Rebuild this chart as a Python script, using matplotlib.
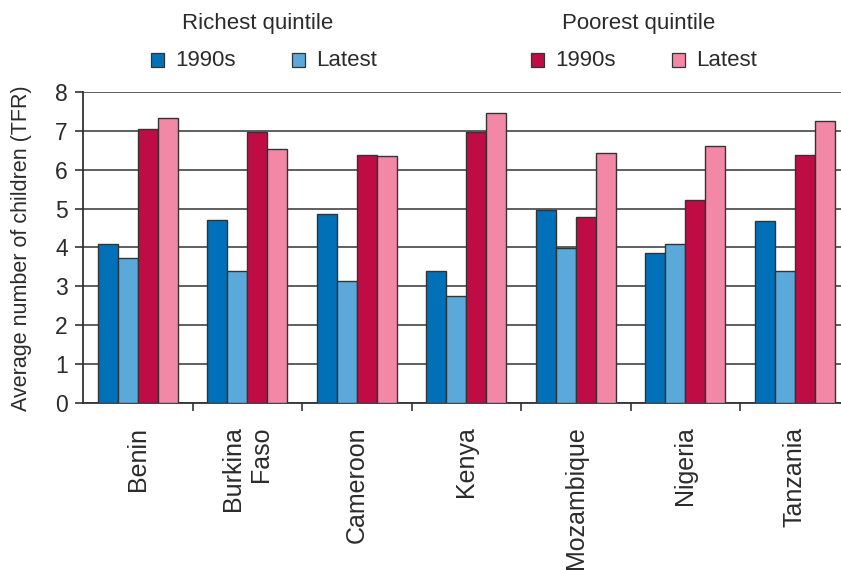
import matplotlib
matplotlib.use("Agg")
import matplotlib.pyplot as plt
import numpy as np
from matplotlib.patches import Rectangle

countries = ["Benin", "Burkina\nFaso", "Cameroon", "Kenya", "Mozambique", "Nigeria", "Tanzania"]
rich_1990s = [4.08, 4.70, 4.86, 3.39, 4.96, 3.86, 4.67]
rich_latest = [3.72, 3.40, 3.13, 2.76, 3.98, 4.09, 3.39]
poor_1990s = [7.04, 6.97, 6.39, 6.97, 4.79, 5.22, 6.39]
poor_latest = [7.34, 6.53, 6.36, 7.47, 6.43, 6.61, 7.26]

series_labels = ["1990s", "Latest", "1990s", "Latest"]
colors = ["#0071B9", "#5BA8DB", "#C00C45", "#F288A6"]
group_titles = ["Richest quintile", "Poorest quintile"]
yticks = [0, 1, 2, 3, 4, 5, 6, 7, 8]
ylabel = "Average number of children (TFR)"

plt.rcParams['font.family'] = ['Liberation Sans', 'DejaVu Sans']
text_color = "#2b2b2b"
edge = "#333333"

fig = plt.figure(figsize=(8.41, 5.70), dpi=100)
ax = fig.add_axes([83/841, 1 - 403/570, 1 - 83/841, (403 - 92)/570])

x = np.arange(len(countries))
w = 0.182
data = [rich_1990s, rich_latest, poor_1990s, poor_latest]
for i, (vals, c) in enumerate(zip(data, colors)):
    ax.bar(x + (i - 1.5) * w, vals, width=w, color=c, edgecolor=edge, linewidth=1.0, zorder=3)

ax.set_ylim(0, 8)
ax.set_xlim(-0.5, (841 - 83) / 109.5 - 0.5)
ax.set_yticks(yticks)
ax.set_yticklabels([str(v) for v in yticks], fontsize=16.5, color=text_color)
ax.yaxis.grid(True, color="#444444", linewidth=1.2, zorder=0)
ax.tick_params(axis='y', length=6, width=1.2, color=edge, direction='out', pad=5)

ax.set_xticks(x)
ax.set_xticklabels(countries, rotation=90, fontsize=18, color=text_color,
                   ha='center', va='top', multialignment='right')
ax.tick_params(axis='x', which='major', length=0, pad=17)
ax.set_xticks(np.arange(len(countries) - 1) + 0.5, minor=True)
ax.tick_params(axis='x', which='minor', length=6, width=1.2, color=edge, direction='out')

for s in ['top', 'right']:
    ax.spines[s].set_visible(False)
for s in ['left', 'bottom']:
    ax.spines[s].set_color(edge)
    ax.spines[s].set_linewidth(1.3)

fig.text(22/841, 1 - 248/570, ylabel, fontsize=15.5, color=text_color,
         rotation=90, ha='center', va='center')

# custom legend
fig.text(258/841, 1 - 24/570, group_titles[0], fontsize=16, color=text_color, ha='center', va='center')
fig.text(639/841, 1 - 24/570, group_titles[1], fontsize=16, color=text_color, ha='center', va='center')
sq_x = [151, 292, 531, 672]
for sx, lab, c in zip(sq_x, series_labels, colors):
    fig.patches.append(Rectangle((sx/841, 1 - 67/570), 13/841, 14/570, transform=fig.transFigure,
                                 facecolor=c, edgecolor=edge, linewidth=0.9))
    fig.text((sx + 24)/841, 1 - 60/570, lab, fontsize=16, color=text_color, ha='left', va='center')

fig.savefig("out.png", dpi=100)
